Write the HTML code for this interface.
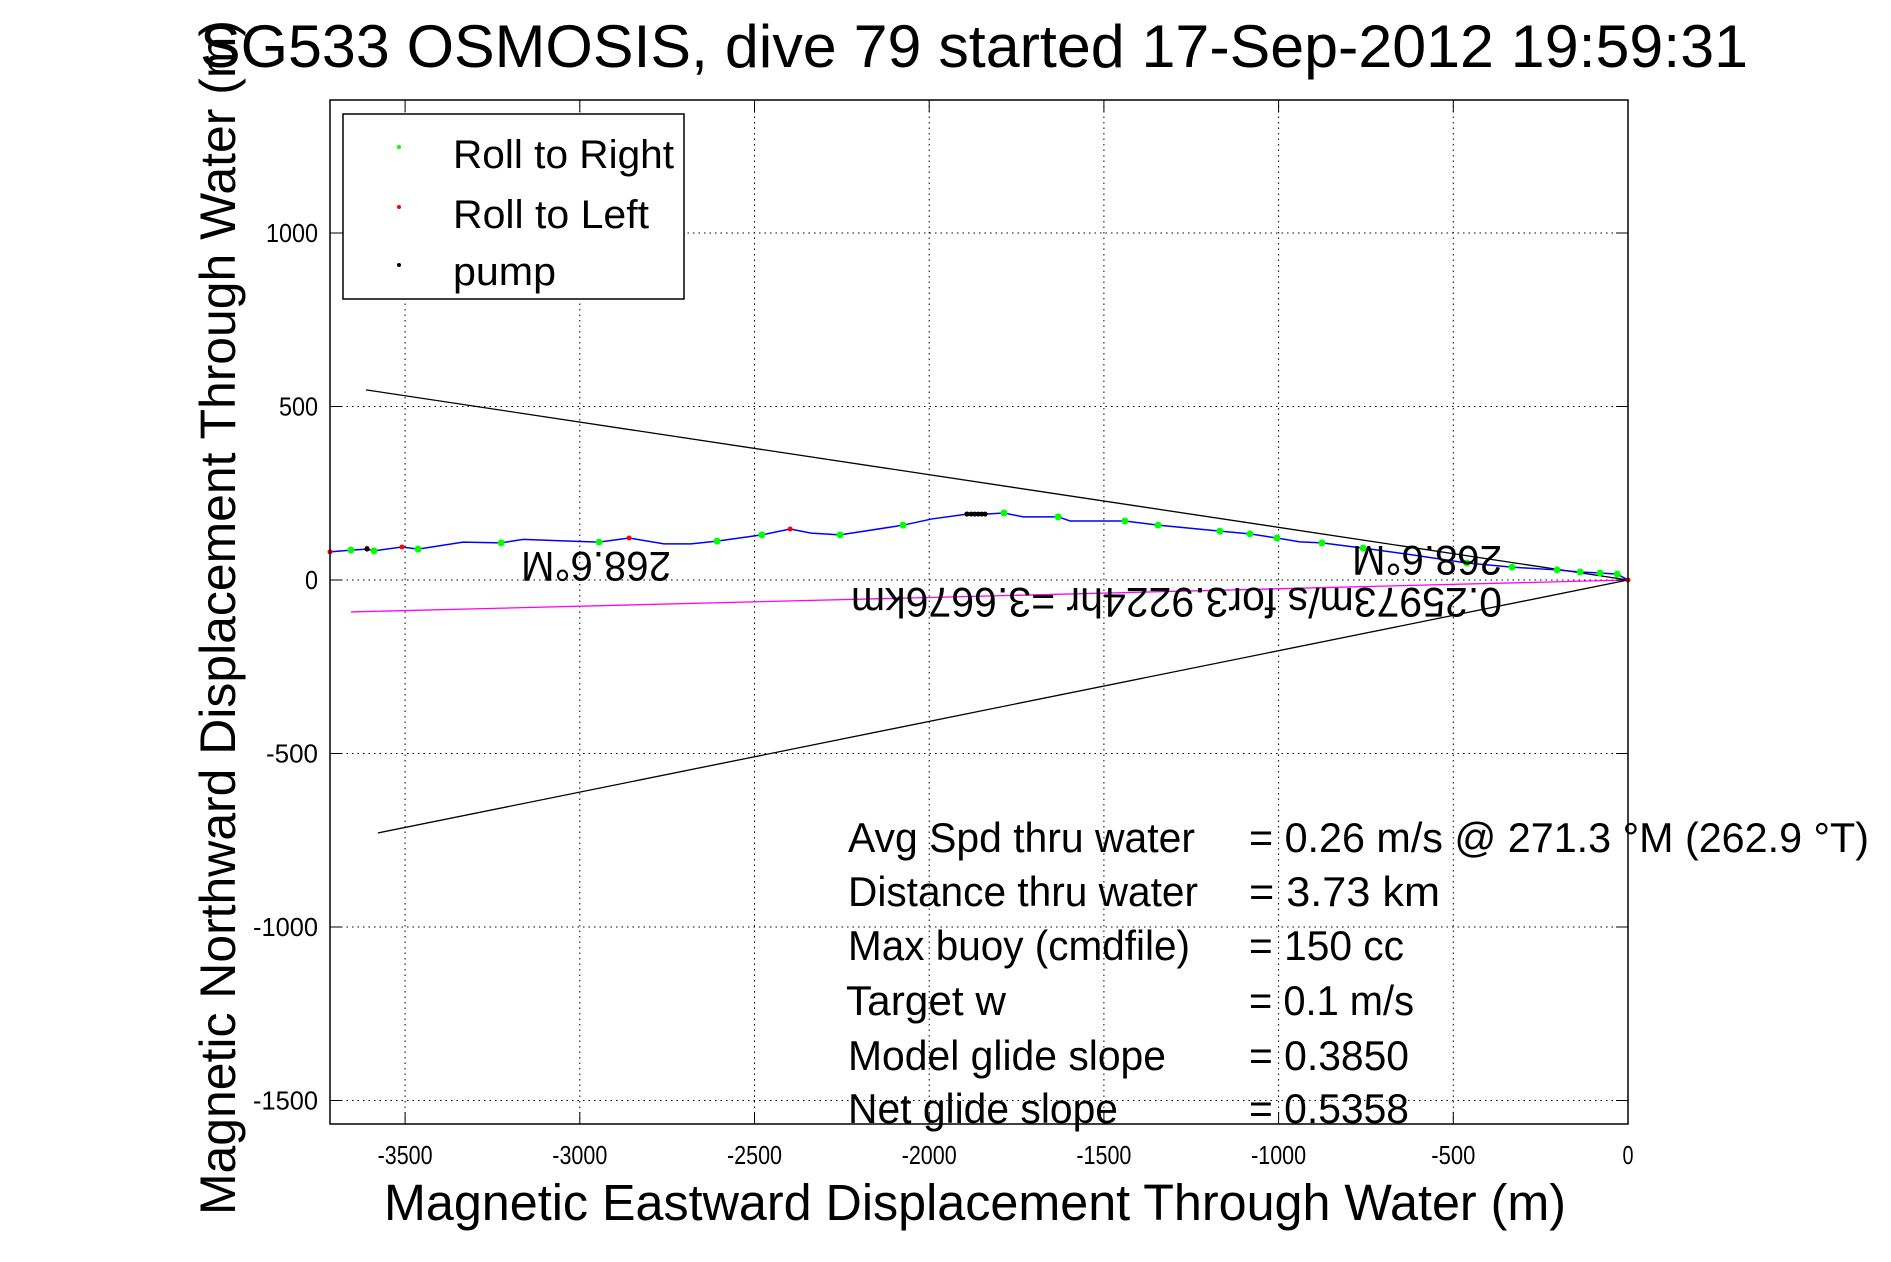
<!DOCTYPE html>
<html><head><meta charset="utf-8"><style>
html,body{margin:0;padding:0;background:#fff;}
svg{display:block;font-family:"Liberation Sans",sans-serif;}
</style></head><body>
<svg id="chart" width="1891" height="1262" viewBox="0 0 1891 1262" xmlns="http://www.w3.org/2000/svg">
<rect x="0" y="0" width="1891" height="1262" fill="#fff"/>
<g id="grid"></g>
<g id="marks"></g>
<rect x="330" y="100" width="1298" height="1024" fill="none" stroke="#000" stroke-width="1.5"/>
<g id="ticks"></g>
<text x="200" y="67" font-size="60" textLength="1548" lengthAdjust="spacingAndGlyphs">SG533 OSMOSIS, dive 79 started 17-Sep-2012 19:59:31</text>
<text x="384" y="1220" font-size="51" textLength="1182" lengthAdjust="spacingAndGlyphs">Magnetic Eastward Displacement Through Water (m)</text>
<text transform="translate(235,1215) rotate(-90)" x="0" y="0" font-size="50" textLength="1195" lengthAdjust="spacingAndGlyphs">Magnetic Northward Displacement Through Water (m)</text>
<g>
<rect x="343" y="114" width="341" height="185" fill="#fff" stroke="#000" stroke-width="1.5"/>
<circle cx="399" cy="147" r="2" fill="#00ff00"/>
<text x="453" y="168" font-size="40" textLength="221" lengthAdjust="spacingAndGlyphs">Roll to Right</text>
<circle cx="399" cy="207" r="2" fill="#ff0000"/>
<text x="453" y="228" font-size="40" textLength="196" lengthAdjust="spacingAndGlyphs">Roll to Left</text>
<circle cx="399" cy="265" r="2" fill="#000"/>
<text x="453" y="285" font-size="40" textLength="103" lengthAdjust="spacingAndGlyphs">pump</text>
</g>
<g font-size="42">
<text transform="rotate(180 596 567)" x="521" y="582" textLength="150" lengthAdjust="spacingAndGlyphs">268.6°M</text>
<text transform="rotate(180 1427 561)" x="1352" y="576" textLength="150" lengthAdjust="spacingAndGlyphs">268.6°M</text>
<text transform="rotate(180 1177 603)" x="852" y="618" textLength="651" lengthAdjust="spacingAndGlyphs">0.25973m/s for3.9224hr =3.6676km</text>
</g>
<g font-size="42">
<text x="848" y="852" textLength="347" lengthAdjust="spacingAndGlyphs">Avg Spd thru water</text>
<text x="1249" y="852" textLength="620" lengthAdjust="spacingAndGlyphs">=  0.26 m/s @ 271.3 °M (262.9 °T)</text>
<text x="848" y="906" textLength="350" lengthAdjust="spacingAndGlyphs">Distance thru water</text>
<text x="1249" y="906" textLength="191" lengthAdjust="spacingAndGlyphs">=  3.73 km</text>
<text x="848" y="960" textLength="342" lengthAdjust="spacingAndGlyphs">Max buoy (cmdfile)</text>
<text x="1249" y="960" textLength="155" lengthAdjust="spacingAndGlyphs">= 150 cc</text>
<text x="846" y="1015" textLength="160" lengthAdjust="spacingAndGlyphs">Target w</text>
<text x="1249" y="1015" textLength="165" lengthAdjust="spacingAndGlyphs">= 0.1 m/s</text>
<text x="848" y="1070" textLength="318" lengthAdjust="spacingAndGlyphs">Model glide slope</text>
<text x="1249" y="1070" textLength="160" lengthAdjust="spacingAndGlyphs">= 0.3850</text>
<text x="848" y="1123" textLength="270" lengthAdjust="spacingAndGlyphs">Net glide slope</text>
<text x="1249" y="1123" textLength="160" lengthAdjust="spacingAndGlyphs">= 0.5358</text>
</g>
</svg>
<script>
var xTicks = [-3500,-3000,-2500,-2000,-1500,-1000,-500,0];
var yTicks = [-1500,-1000,-500,0,500,1000];
var trackX = [-3715,-3655,-3609,-3589,-3509,-3463,-3334,-3225,-3162,-3028,-2945,-2859,-2759,-2682,-2607,-2479,-2398,-2338,-2255,-2075,-1992,-1892,-1840,-1786,-1731,-1631,-1597,-1502,-1440,-1345,-1168,-1082,-1005,-939,-876,-758,-615,-461,-332,-203,-137,-80,-31,0];
var trackY = [81,86,89,84,95,89,109,107,117,112,109,121,104,104,112,130,147,135,130,158,176,190,190,193,182,182,170,170,170,158,141,133,121,110,107,92,72,49,37,29,23,20,17,0];
var greenX = [-3655,-3589,-3463,-3225,-2945,-2607,-2479,-2255,-2075,-1786,-1631,-1440,-1345,-1168,-1082,-1005,-876,-758,-461,-332,-203,-137,-80,-31];
var greenY = [86,84,89,107,109,112,130,130,158,193,182,170,158,141,133,121,107,92,49,37,29,23,20,17];
var redX = [-3715,-3609,-3509,-2859,-2398,-1892,0];
var redY = [81,91,95,121,147,190,0];
var pumpX = [-3609,-1892,-1880,-1870,-1860,-1850,-1840];
var pumpY = [89,190,190,190,190,190,190];
var upperLine = [[-3612,548],[0,0]];
var lowerLine = [[-3578,-729],[0,0]];
var currentLine = [[-3655,-92],[0,0]];

var NS='http://www.w3.org/2000/svg';
function sx(v){return 1628 + v*0.3494;}
function sy(v){return 580 - v*0.347;}
function mk(tag, attrs, parent){var e=document.createElementNS(NS,tag);for(var k in attrs)e.setAttribute(k,attrs[k]);parent.appendChild(e);return e;}
var grid=document.getElementById('grid'), ticks=document.getElementById('ticks'), marks=document.getElementById('marks');
xTicks.forEach(function(t){
  var x=sx(t);
  var g=mk('line',{x1:x,y1:100,x2:x,y2:1124,stroke:'#000','stroke-width':1,'stroke-dasharray':'1.5,4'},grid);
  
  
  var a=mk('line',{x1:x,y1:1124,x2:x,y2:1112,stroke:'#000','stroke-width':1},ticks);
  
  
  var b=mk('line',{x1:x,y1:100,x2:x,y2:112,stroke:'#000','stroke-width':1},ticks);
  
  
  var l=mk('text',{x:x,y:1164,'font-size':26,'text-anchor':'middle',textLength:(String(t).length*11),lengthAdjust:'spacingAndGlyphs'},ticks);
  l.textContent=String(t);
  
  
});
yTicks.forEach(function(t){
  var y=sy(t);
  var g=mk('line',{x1:330,y1:y,x2:1628,y2:y,stroke:'#000','stroke-width':1,'stroke-dasharray':'1.5,4'},grid);
  
  
  var a=mk('line',{x1:330,y1:y,x2:342,y2:y,stroke:'#000','stroke-width':1},ticks);
  
  
  var b=mk('line',{x1:1628,y1:y,x2:1616,y2:y,stroke:'#000','stroke-width':1},ticks);
  
  
  var l=mk('text',{x:318,y:y+9,'font-size':26,'text-anchor':'end',textLength:(String(t).length*13),lengthAdjust:'spacingAndGlyphs'},ticks);
  l.textContent=String(t);
  
  
});
function seg(p,color,name){
  var e=mk('line',{x1:sx(p[0][0]),y1:sy(p[0][1]),x2:sx(p[1][0]),y2:sy(p[1][1]),stroke:color,'stroke-width':1.3},marks);
  
  
}
seg(upperLine,'#000','upper-bound-line');
seg(lowerLine,'#000','lower-bound-line');
seg(currentLine,'#ff00ff','current-line');
var pts=trackX.map(function(v,i){return sx(v)+','+sy(trackY[i]);}).join(' ');
var tr=mk('polyline',{points:pts,fill:'none',stroke:'#0000ff','stroke-width':1.5},marks);


greenX.forEach(function(v,i){
  var c=mk('circle',{cx:sx(v),cy:sy(greenY[i]),r:3.5,fill:'#00ff00'},marks);
  
  
});
redX.forEach(function(v,i){
  var c=mk('circle',{cx:sx(v),cy:sy(redY[i]),r:2.5,fill:'#ff0000'},marks);
  
  
});
pumpX.forEach(function(v,i){
  var c=mk('circle',{cx:sx(v),cy:sy(pumpY[i]),r:2.5,fill:'#000'},marks);
  
  
});
</script>
</body></html>
